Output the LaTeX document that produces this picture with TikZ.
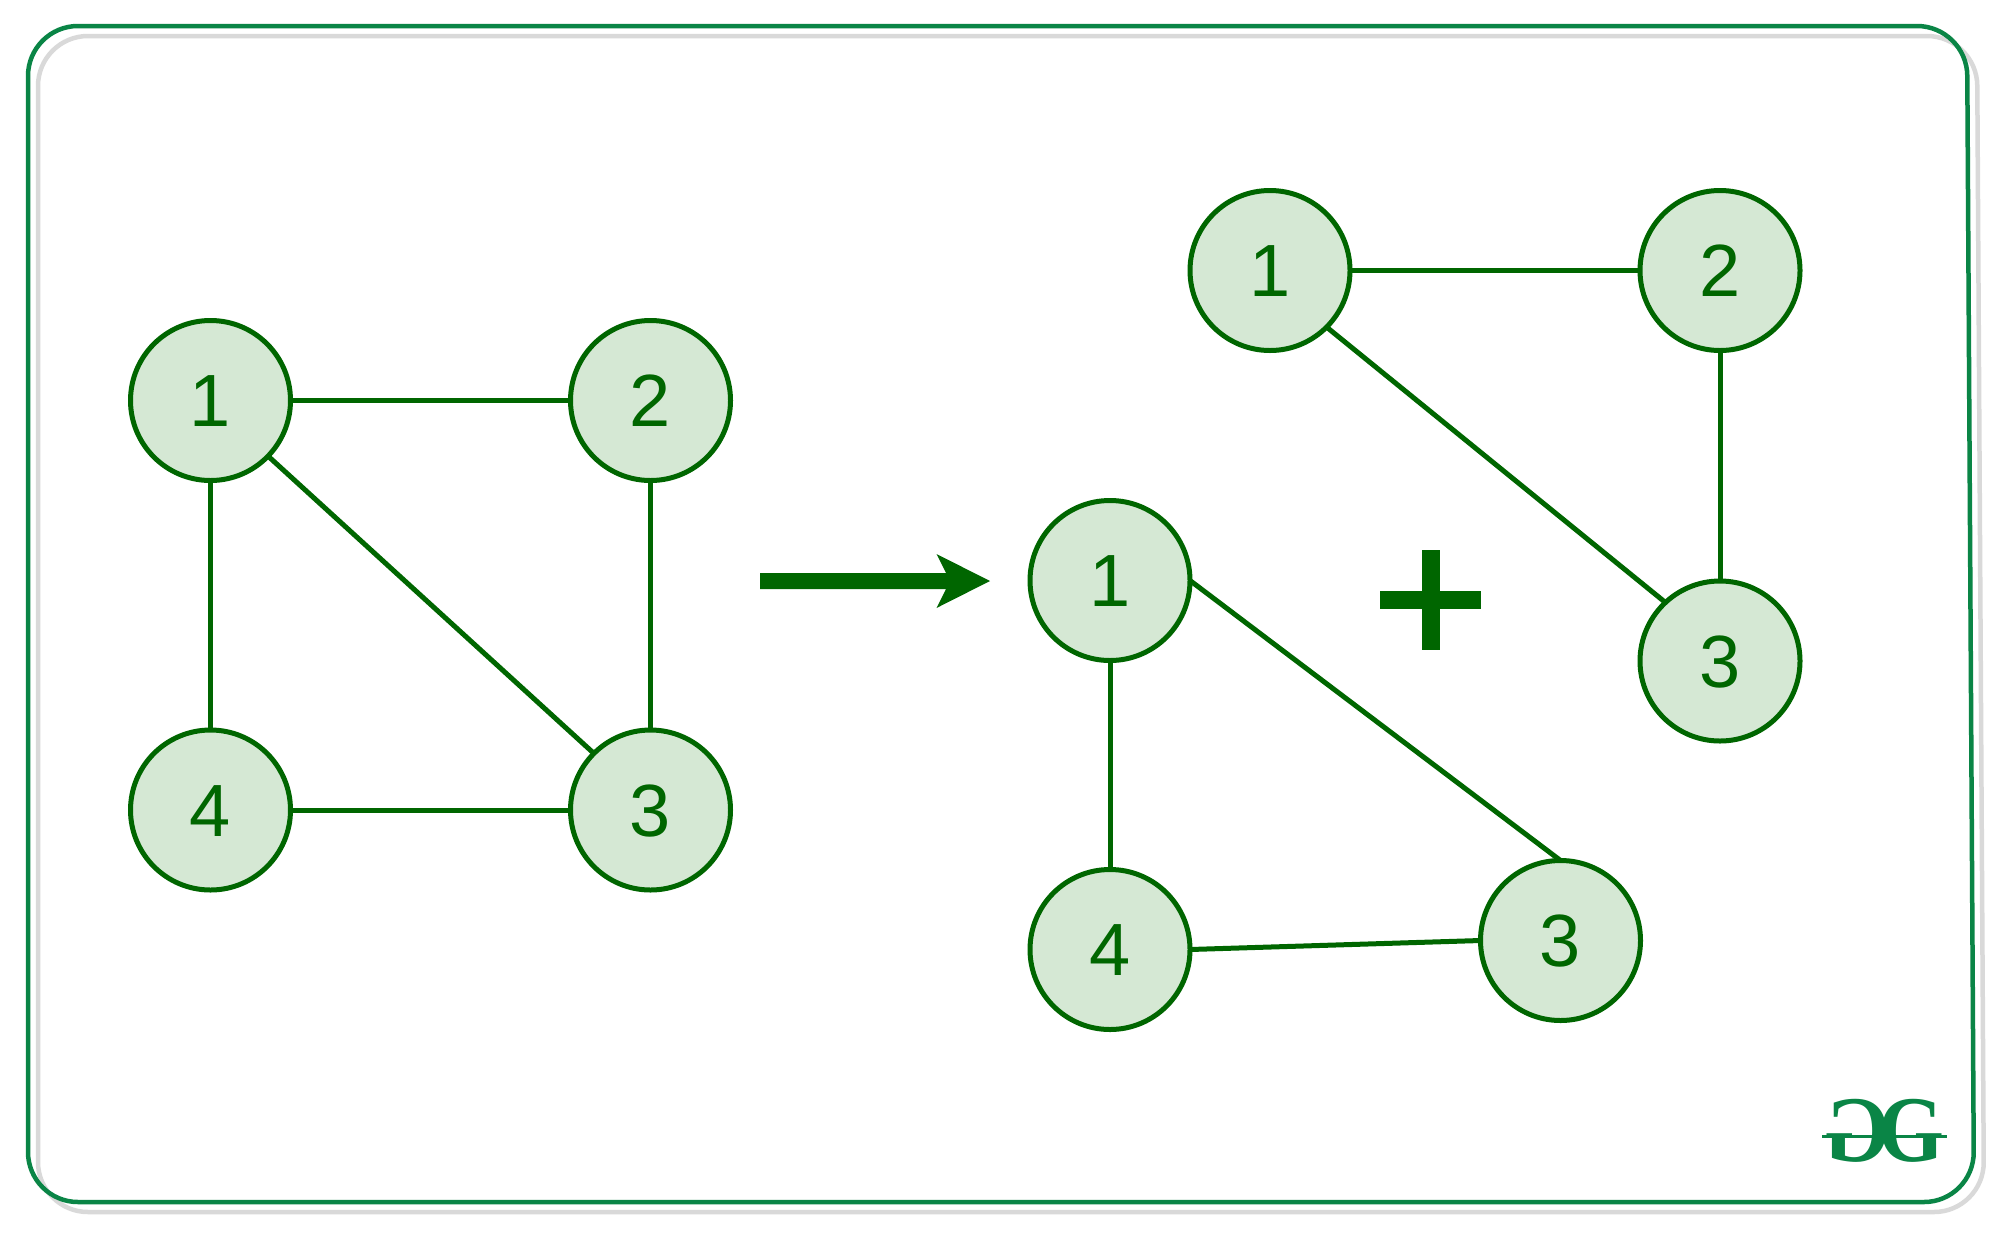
\documentclass[tikz,border=0pt]{standalone}
\usepackage{fontspec}
\setmainfont{Liberation Sans}
\newfontfamily\logofont{Liberation Serif}
\definecolor{dgreen}{HTML}{006600}
\definecolor{vfill}{HTML}{D5E8D4}
\definecolor{frameg}{HTML}{0A8546}
\definecolor{framegray}{HTML}{D9D9D9}
\tikzset{
  vert/.style={circle,draw=dgreen,fill=vfill,line width=5pt,minimum size=160pt,inner sep=0pt,outer sep=0pt,text=dgreen,text height=52.4pt,text depth=0pt,font=\fontsize{74}{74}\selectfont},
  gedge/.style={draw=dgreen,line width=5pt},
  logog/.style={text=frameg,inner sep=0pt,outer sep=0pt,font=\logofont\bfseries\fontsize{94}{94}\selectfont}
}
\begin{document}
\begin{tikzpicture}[x=1pt,y=-1pt]
\useasboundingbox (0,0) rectangle (2001,1232);
\fill[white] (0,0) rectangle (2001,1232);
% frames
\draw[framegray,line width=4.5pt,rounded corners=50pt] (38,36) -- (1977,36) -- (1984,1212) -- (38,1212) -- cycle;
\draw[frameg,line width=4.5pt,rounded corners=50pt] (28,26) -- (1967,26) -- (1974,1202) -- (28,1202) -- cycle;
% left graph
\node[vert] (a1) at (210.5,400.5) {1};
\node[vert] (a2) at (650.5,400.5) {2};
\node[vert] (a3) at (650.5,810) {3};
\node[vert] (a4) at (210.5,810) {4};
\draw[gedge] (a1) -- (a2);
\draw[gedge] (a1) -- (a4);
\draw[gedge] (a2) -- (a3);
\draw[gedge] (a4) -- (a3);
\draw[gedge] (a1.-44) -- (a3.135);
% arrow
\coordinate (arrowstart) at (760,581);
\coordinate (arrowtip) at (990,581);
\fill[dgreen] (arrowstart) ++(0,-8) -- (946,573) -- (936.5,554) -- (arrowtip) -- (936.5,608) -- (946,589) -- (760,589) -- cycle;
% middle graph
\node[vert] (b1) at (1110,580.5) {1};
\node[vert] (b4) at (1110,949.5) {4};
\node[vert] (b3) at (1560.5,940.5) {3};
\draw[gedge] (b1) -- (b4);
\draw[gedge] (b1.east) -- (b3.north);
\draw[gedge] (b4.east) -- (b3.west);
% plus
\fill[dgreen] (1380,591) rectangle (1481,609);
\fill[dgreen] (1421.5,550) rectangle (1439.5,650);
% right graph
\node[vert] (c1) at (1270,270.5) {1};
\node[vert] (c2) at (1720,270.5) {2};
\node[vert] (c3) at (1720,661) {3};
\draw[gedge] (c1) -- (c2);
\draw[gedge] (c2) -- (c3);
\draw[gedge] (c1.-45) -- (c3.133);
% logo
\node[logog,xscale=-.9] (g1) at (1858,1130.5) {G};
\node[logog,xscale=.9] (g2) at (1911,1130.5) {G};
\fill[frameg] (1822,1134.5) rectangle (1947,1138);
\end{tikzpicture}
\end{document}
